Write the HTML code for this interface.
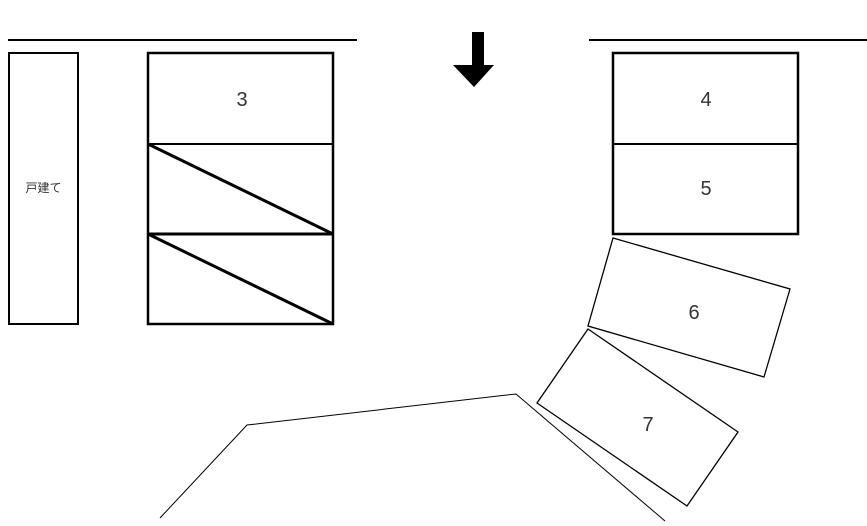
<!DOCTYPE html>
<html><head><meta charset="utf-8"><style>
html,body{margin:0;padding:0;background:#fff;width:867px;height:526px;overflow:hidden}
text{font-family:"Liberation Sans","Noto Sans CJK JP",sans-serif;fill:#333}
</style></head><body>
<svg width="867" height="526" viewBox="0 0 867 526" xmlns="http://www.w3.org/2000/svg">
<line x1="8" y1="40" x2="357" y2="40" stroke="#000" stroke-width="2"/>
<line x1="589" y1="40" x2="867" y2="40" stroke="#000" stroke-width="2"/>
<rect x="9" y="53" width="69" height="271" fill="none" stroke="#000" stroke-width="2"/>
<text x="43.5" y="192" font-size="12" text-anchor="middle">戸建て</text>
<rect x="148" y="53" width="185" height="271" fill="none" stroke="#000" stroke-width="2.5"/>
<line x1="148" y1="144" x2="333" y2="144" stroke="#000" stroke-width="2"/>
<line x1="148" y1="234" x2="333" y2="234" stroke="#000" stroke-width="3"/>
<line x1="148" y1="144" x2="333" y2="234" stroke="#000" stroke-width="3"/>
<line x1="148" y1="234" x2="333" y2="324" stroke="#000" stroke-width="3"/>
<text x="242" y="106" font-size="20" text-anchor="middle">3</text>
<polygon points="472,32 484,32 484,65 494,65 474,87 453,65 472,65" fill="#000"/>
<rect x="613" y="53" width="185" height="181" fill="none" stroke="#000" stroke-width="2.5"/>
<line x1="613" y1="144" x2="798" y2="144" stroke="#000" stroke-width="2"/>
<text x="706" y="106" font-size="20" text-anchor="middle">4</text>
<text x="706" y="195" font-size="20" text-anchor="middle">5</text>
<polygon points="613,238 790,289 764,377 588,326" fill="none" stroke="#000" stroke-width="1.3"/>
<text x="694" y="319" font-size="20" text-anchor="middle">6</text>
<polygon points="588,329 738,432 687,506 537,403" fill="none" stroke="#000" stroke-width="1.3"/>
<text x="648" y="431" font-size="20" text-anchor="middle">7</text>
<polyline points="160,518 247,425 516,394 665,521" fill="none" stroke="#000" stroke-width="1"/>
</svg>
</body></html>
